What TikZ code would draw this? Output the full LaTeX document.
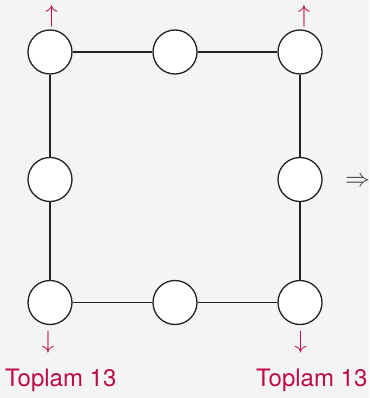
\documentclass[tikz,border=0pt]{standalone}
\usepackage{fontspec}
\setsansfont{TeX Gyre Heros}
\definecolor{bg}{HTML}{F4F4F6}
\definecolor{crim}{RGB}{190,10,70}
\definecolor{ink}{HTML}{222222}
\definecolor{arr}{HTML}{3A3A3A}
\begin{document}
\begin{tikzpicture}[x=1pt,y=-1pt,
  dot/.style={circle,draw=ink,fill=white,line width=1.3pt,minimum size=44pt,inner sep=0pt},
  edge/.style={draw=ink,line width=1.3pt},
  redarrow/.style={text=crim,inner sep=0pt,font=\fontsize{27}{27}\selectfont},
  sumlabel/.style={text=crim,inner sep=0pt,anchor=base west,font=\sffamily\fontsize{24}{24}\selectfont}]
\fill[bg] (0,0) rectangle (369,398);
\useasboundingbox (0,0) rectangle (369,398);
\node[dot] (tl) at (50,52) {};
\node[dot] (tm) at (175,52) {};
\node[dot] (tr) at (300,52) {};
\node[dot] (ml) at (50,179.5) {};
\node[dot] (mr) at (300,179.5) {};
\node[dot] (bl) at (50,302.5) {};
\node[dot] (bm) at (175,302.5) {};
\node[dot] (br) at (300,302.5) {};
\draw[edge] (tl) -- (tm);
\draw[edge] (tm) -- (tr);
\draw[edge] (tr) -- (mr);
\draw[edge] (mr) -- (br);
\draw[edge] (br) -- (bm);
\draw[edge] (bm) -- (bl);
\draw[edge] (bl) -- (ml);
\draw[edge] (ml) -- (tl);
\node[redarrow] (ua1) at (51.7,16.5) {$\uparrow$};
\node[redarrow] (ua2) at (304,16.5) {$\uparrow$};
\node[redarrow] (da1) at (48,342.5) {$\downarrow$};
\node[redarrow] (da2) at (300.7,342.5) {$\downarrow$};
\node[sumlabel] (s1) at (5,386) {Toplam 13};
\node[sumlabel] (s2) at (256,386) {Toplam 13};
\node[text=arr,inner sep=0pt,font=\fontsize{24}{24}\selectfont] (imp) at (357.5,182) {$\Rightarrow$};
\end{tikzpicture}
\end{document}
